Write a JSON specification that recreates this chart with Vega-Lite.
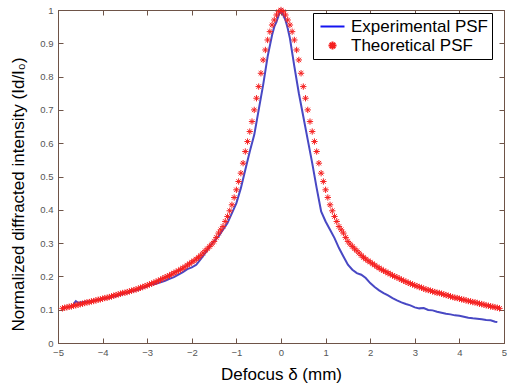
{
  "$schema": "https://vega.github.io/schema/vega-lite/v6.json",
  "width": 446,
  "height": 333,
  "autosize": "none",
  "padding": {"left": 58, "top": 10, "right": 6, "bottom": 44},
  "background": "white",
  "datasets": {
    "exp": [
      {"x":-4.65,"y":0.117},{"x":-4.6,"y":0.126},{"x":-4.55,"y":0.121},{"x":-4.5,"y":0.122},{"x":-4.4,"y":0.124},{"x":-4.3,"y":0.125},{"x":-4.2,"y":0.127},{"x":-4.1,"y":0.13},{"x":-4.0,"y":0.132},{"x":-3.9,"y":0.135},{"x":-3.8,"y":0.137},{"x":-3.7,"y":0.141},{"x":-3.6,"y":0.145},{"x":-3.5,"y":0.15},{"x":-3.4,"y":0.152},{"x":-3.3,"y":0.157},{"x":-3.2,"y":0.16},{"x":-3.1,"y":0.166},{"x":-3.0,"y":0.17},{"x":-2.9,"y":0.176},{"x":-2.8,"y":0.178},{"x":-2.7,"y":0.182},{"x":-2.6,"y":0.187},{"x":-2.5,"y":0.193},{"x":-2.4,"y":0.198},{"x":-2.3,"y":0.205},{"x":-2.2,"y":0.213},{"x":-2.1,"y":0.222},{"x":-2.0,"y":0.227},{"x":-1.9,"y":0.235},{"x":-1.8,"y":0.252},{"x":-1.7,"y":0.27},{"x":-1.6,"y":0.29},{"x":-1.5,"y":0.305},{"x":-1.4,"y":0.32},{"x":-1.3,"y":0.34},{"x":-1.2,"y":0.36},{"x":-1.1,"y":0.39},{"x":-1.0,"y":0.42},{"x":-0.9,"y":0.465},{"x":-0.8,"y":0.52},{"x":-0.7,"y":0.575},{"x":-0.6,"y":0.625},{"x":-0.5,"y":0.7},{"x":-0.4,"y":0.775},{"x":-0.3,"y":0.86},{"x":-0.2,"y":0.925},{"x":-0.15,"y":0.95},{"x":-0.1,"y":0.965},{"x":-0.05,"y":0.985},{"x":0,"y":1.0},{"x":0.05,"y":0.985},{"x":0.1,"y":0.97},{"x":0.15,"y":0.945},{"x":0.2,"y":0.915},{"x":0.3,"y":0.83},{"x":0.4,"y":0.75},{"x":0.5,"y":0.68},{"x":0.6,"y":0.61},{"x":0.7,"y":0.54},{"x":0.8,"y":0.465},{"x":0.9,"y":0.395},{"x":1.0,"y":0.365},{"x":1.1,"y":0.34},{"x":1.2,"y":0.315},{"x":1.3,"y":0.285},{"x":1.4,"y":0.26},{"x":1.5,"y":0.235},{"x":1.6,"y":0.22},{"x":1.7,"y":0.21},{"x":1.8,"y":0.205},{"x":1.9,"y":0.195},{"x":2.0,"y":0.18},{"x":2.1,"y":0.168},{"x":2.2,"y":0.158},{"x":2.3,"y":0.15},{"x":2.4,"y":0.143},{"x":2.5,"y":0.135},{"x":2.6,"y":0.128},{"x":2.7,"y":0.122},{"x":2.8,"y":0.117},{"x":2.9,"y":0.113},{"x":3.0,"y":0.107},{"x":3.1,"y":0.104},{"x":3.2,"y":0.105},{"x":3.3,"y":0.099},{"x":3.4,"y":0.098},{"x":3.5,"y":0.094},{"x":3.6,"y":0.091},{"x":3.7,"y":0.088},{"x":3.8,"y":0.086},{"x":3.9,"y":0.083},{"x":4.0,"y":0.082},{"x":4.1,"y":0.079},{"x":4.2,"y":0.076},{"x":4.3,"y":0.074},{"x":4.4,"y":0.073},{"x":4.5,"y":0.071},{"x":4.6,"y":0.069},{"x":4.7,"y":0.068},{"x":4.8,"y":0.064},{"x":4.85,"y":0.063}
    ],
    "theo": [
      {"x":-4.9,"y":0.104},{"x":-4.85,"y":0.106},{"x":-4.8,"y":0.107},{"x":-4.75,"y":0.109},{"x":-4.7,"y":0.110},{"x":-4.65,"y":0.112},{"x":-4.6,"y":0.113},{"x":-4.55,"y":0.115},{"x":-4.5,"y":0.117},{"x":-4.45,"y":0.118},{"x":-4.4,"y":0.120},{"x":-4.35,"y":0.122},{"x":-4.3,"y":0.123},{"x":-4.25,"y":0.125},{"x":-4.2,"y":0.126},{"x":-4.15,"y":0.128},{"x":-4.1,"y":0.130},{"x":-4.05,"y":0.131},{"x":-4.0,"y":0.133},{"x":-3.95,"y":0.135},{"x":-3.9,"y":0.136},{"x":-3.85,"y":0.138},{"x":-3.8,"y":0.140},{"x":-3.75,"y":0.142},{"x":-3.7,"y":0.144},{"x":-3.65,"y":0.146},{"x":-3.6,"y":0.148},{"x":-3.55,"y":0.150},{"x":-3.5,"y":0.151},{"x":-3.45,"y":0.153},{"x":-3.4,"y":0.155},{"x":-3.35,"y":0.157},{"x":-3.3,"y":0.159},{"x":-3.25,"y":0.161},{"x":-3.2,"y":0.163},{"x":-3.15,"y":0.166},{"x":-3.1,"y":0.168},{"x":-3.05,"y":0.171},{"x":-3.0,"y":0.173},{"x":-2.95,"y":0.176},{"x":-2.9,"y":0.178},{"x":-2.85,"y":0.181},{"x":-2.8,"y":0.184},{"x":-2.75,"y":0.187},{"x":-2.7,"y":0.190},{"x":-2.65,"y":0.194},{"x":-2.6,"y":0.197},{"x":-2.55,"y":0.200},{"x":-2.5,"y":0.203},{"x":-2.45,"y":0.207},{"x":-2.4,"y":0.210},{"x":-2.35,"y":0.214},{"x":-2.3,"y":0.217},{"x":-2.25,"y":0.221},{"x":-2.2,"y":0.225},{"x":-2.15,"y":0.229},{"x":-2.1,"y":0.234},{"x":-2.05,"y":0.238},{"x":-2.0,"y":0.243},{"x":-1.95,"y":0.247},{"x":-1.9,"y":0.252},{"x":-1.85,"y":0.257},{"x":-1.8,"y":0.263},{"x":-1.75,"y":0.270},{"x":-1.7,"y":0.277},{"x":-1.65,"y":0.283},{"x":-1.6,"y":0.290},{"x":-1.55,"y":0.297},{"x":-1.5,"y":0.305},{"x":-1.45,"y":0.317},{"x":-1.4,"y":0.330},{"x":-1.35,"y":0.340},{"x":-1.3,"y":0.350},{"x":-1.25,"y":0.365},{"x":-1.2,"y":0.380},{"x":-1.15,"y":0.397},{"x":-1.1,"y":0.415},{"x":-1.05,"y":0.437},{"x":-1.0,"y":0.460},{"x":-0.95,"y":0.485},{"x":-0.9,"y":0.510},{"x":-0.85,"y":0.540},{"x":-0.8,"y":0.575},{"x":-0.75,"y":0.605},{"x":-0.7,"y":0.635},{"x":-0.65,"y":0.665},{"x":-0.6,"y":0.700},{"x":-0.55,"y":0.735},{"x":-0.5,"y":0.770},{"x":-0.45,"y":0.810},{"x":-0.4,"y":0.850},{"x":-0.35,"y":0.880},{"x":-0.3,"y":0.910},{"x":-0.25,"y":0.935},{"x":-0.2,"y":0.955},{"x":-0.15,"y":0.970},{"x":-0.1,"y":0.985},{"x":-0.05,"y":0.995},
      {"x":0,"y":1.0},
      {"x":0.05,"y":0.995},{"x":0.1,"y":0.985},{"x":0.15,"y":0.970},{"x":0.2,"y":0.955},{"x":0.25,"y":0.935},{"x":0.3,"y":0.910},{"x":0.35,"y":0.880},{"x":0.4,"y":0.850},{"x":0.45,"y":0.810},{"x":0.5,"y":0.770},{"x":0.55,"y":0.735},{"x":0.6,"y":0.700},{"x":0.65,"y":0.665},{"x":0.7,"y":0.635},{"x":0.75,"y":0.605},{"x":0.8,"y":0.575},{"x":0.85,"y":0.540},{"x":0.9,"y":0.510},{"x":0.95,"y":0.485},{"x":1.0,"y":0.460},{"x":1.05,"y":0.437},{"x":1.1,"y":0.415},{"x":1.15,"y":0.397},{"x":1.2,"y":0.380},{"x":1.25,"y":0.365},{"x":1.3,"y":0.350},{"x":1.35,"y":0.340},{"x":1.4,"y":0.330},{"x":1.45,"y":0.317},{"x":1.5,"y":0.305},{"x":1.55,"y":0.297},{"x":1.6,"y":0.290},{"x":1.65,"y":0.283},{"x":1.7,"y":0.277},{"x":1.75,"y":0.270},{"x":1.8,"y":0.263},{"x":1.85,"y":0.257},{"x":1.9,"y":0.252},{"x":1.95,"y":0.247},{"x":2.0,"y":0.243},{"x":2.05,"y":0.238},{"x":2.1,"y":0.234},{"x":2.15,"y":0.229},{"x":2.2,"y":0.225},{"x":2.25,"y":0.221},{"x":2.3,"y":0.217},{"x":2.35,"y":0.214},{"x":2.4,"y":0.210},{"x":2.45,"y":0.207},{"x":2.5,"y":0.203},{"x":2.55,"y":0.200},{"x":2.6,"y":0.197},{"x":2.65,"y":0.194},{"x":2.7,"y":0.190},{"x":2.75,"y":0.187},{"x":2.8,"y":0.184},{"x":2.85,"y":0.181},{"x":2.9,"y":0.178},{"x":2.95,"y":0.176},{"x":3.0,"y":0.173},{"x":3.05,"y":0.171},{"x":3.1,"y":0.168},{"x":3.15,"y":0.166},{"x":3.2,"y":0.163},{"x":3.25,"y":0.161},{"x":3.3,"y":0.159},{"x":3.35,"y":0.157},{"x":3.4,"y":0.155},{"x":3.45,"y":0.153},{"x":3.5,"y":0.151},{"x":3.55,"y":0.150},{"x":3.6,"y":0.148},{"x":3.65,"y":0.146},{"x":3.7,"y":0.144},{"x":3.75,"y":0.142},{"x":3.8,"y":0.140},{"x":3.85,"y":0.138},{"x":3.9,"y":0.136},{"x":3.95,"y":0.135},{"x":4.0,"y":0.133},{"x":4.05,"y":0.131},{"x":4.1,"y":0.130},{"x":4.15,"y":0.128},{"x":4.2,"y":0.126},{"x":4.25,"y":0.125},{"x":4.3,"y":0.123},{"x":4.35,"y":0.122},{"x":4.4,"y":0.120},{"x":4.45,"y":0.118},{"x":4.5,"y":0.117},{"x":4.55,"y":0.115},{"x":4.6,"y":0.113},{"x":4.65,"y":0.112},{"x":4.7,"y":0.110},{"x":4.75,"y":0.109},{"x":4.8,"y":0.107},{"x":4.85,"y":0.106},{"x":4.9,"y":0.104}
    ]
  },
  "layer": [
    {
      "data": {"name": "exp"},
      "mark": {"type": "line", "color": "#4848c4", "strokeWidth": 2, "interpolate": "linear"},
      "encoding": {
        "x": {
          "field": "x", "type": "quantitative",
          "scale": {"domain": [-5, 5], "nice": false, "zero": false},
          "axis": {
            "orient": "bottom",
            "values": [-5,-4,-3,-2,-1,0,1,2,3,4,5],
            "format": "~g",
            "labelFlush": false,
            "labelPadding": 9,
            "title": "Defocus δ (mm)",
            "titleY": 36,
            "titleBaseline": "alphabetic"
          }
        },
        "y": {
          "field": "y", "type": "quantitative",
          "scale": {"domain": [0, 1], "nice": false, "zero": false},
          "axis": {
            "orient": "left",
            "values": [0,0.1,0.2,0.3,0.4,0.5,0.6,0.7,0.8,0.9,1],
            "format": "~g",
            "labelPadding": 10,
            "title": "Normalized diffracted intensity (Id/I₀)",
            "titleX": -40,
            "titleY": 184,
            "titleBaseline": "middle"
          }
        }
      }
    },
    {
      "data": {"name": "theo"},
      "mark": {"type": "point", "filled": false, "strokeWidth": 1, "size": 40, "opacity": 1},
      "encoding": {
        "x": {
          "field": "x", "type": "quantitative",
          "axis": {"orient": "top", "values": [-5,-4,-3,-2,-1,0,1,2,3,4,5], "labels": false, "title": null}
        },
        "y": {
          "field": "y", "type": "quantitative",
          "axis": {"orient": "right", "values": [0,0.1,0.2,0.3,0.4,0.5,0.6,0.7,0.8,0.9,1], "labels": false, "title": null}
        },
        "color": {
          "datum": "Theoretical PSF",
          "scale": {"domain": ["Experimental PSF", "Theoretical PSF"], "range": ["#1414f0", "#f52020"]},
          "legend": {"title": null}
        },
        "shape": {
          "datum": "Theoretical PSF",
          "scale": {"domain": ["Experimental PSF", "Theoretical PSF"], "range": ["M-3,0L3,0", "M-1,0L1,0M0,-1L0,1M-0.7,-0.7L0.7,0.7M-0.7,0.7L0.7,-0.7"]},
          "legend": {"title": null}
        }
      }
    }
  ],
  "resolve": {"axis": {"x": "independent", "y": "independent"}},
  "config": {
    "font": "Liberation Sans",
    "view": {"stroke": "#6e5448", "strokeWidth": 1},
    "axis": {
      "grid": false,
      "domainColor": "#6e5448",
      "tickColor": "#6e5448",
      "tickSize": -5,
      "labelFont": "Liberation Sans",
      "labelFontSize": 9.5,
      "labelColor": "#555555",
      "titleFont": "Liberation Sans",
      "titleFontSize": 17,
      "titleFontWeight": "normal",
      "titleColor": "#000000"
    },
    "legend": {
      "orient": "none",
      "legendX": 255,
      "legendY": 3,
      "strokeColor": "#000000",
      "fillColor": "#ffffff",
      "padding": 4,
      "labelFont": "Liberation Sans",
      "labelFontSize": 17,
      "labelColor": "#000000",
      "symbolSize": 64,
      "symbolStrokeWidth": 2,
      "symbolOffset": 7,
      "labelOffset": 10,
      "clipHeight": 19,
      "rowPadding": 0
    }
  }
}
